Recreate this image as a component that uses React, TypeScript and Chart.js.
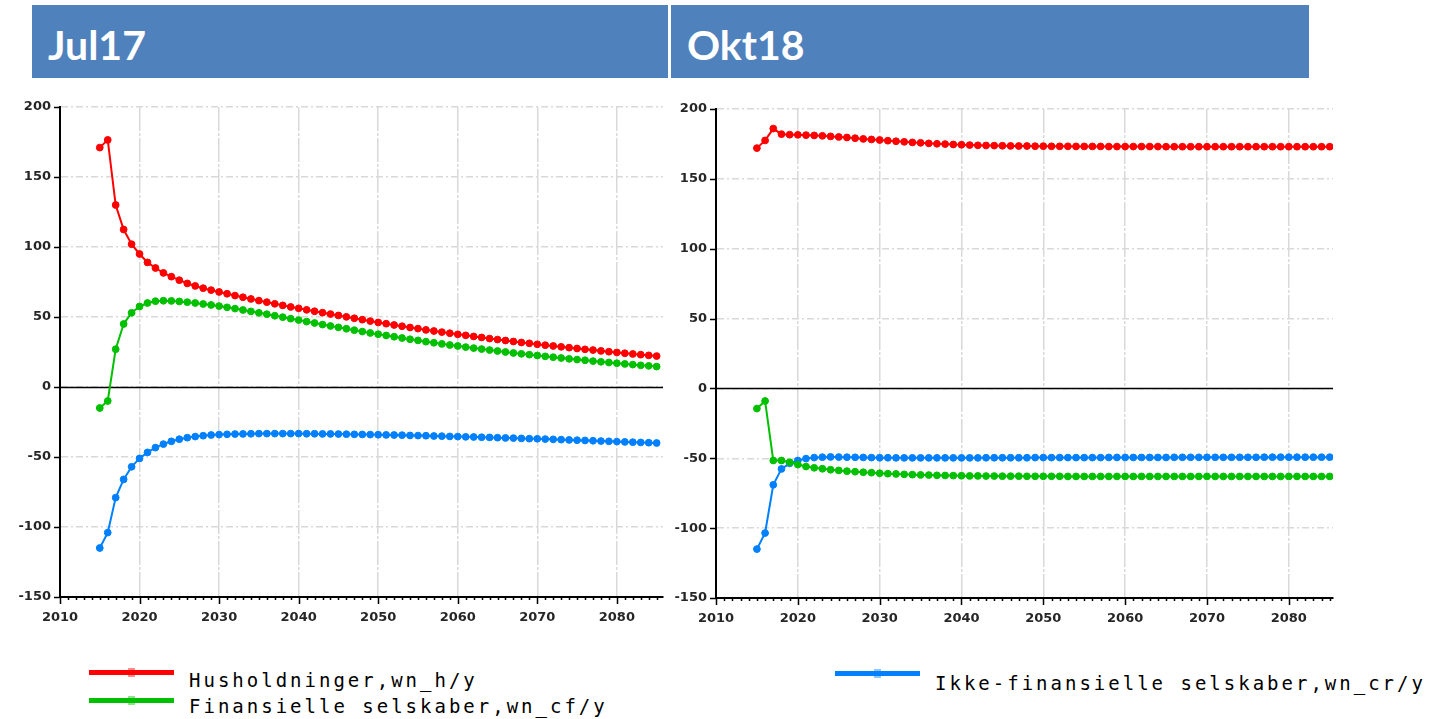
import React, { useEffect, useRef } from "react";
import { Chart, registerables } from "chart.js";
Chart.register(...registerables);

const years = [
  2015, 2016, 2017, 2018, 2019, 2020, 2021, 2022, 2023, 2024, 2025, 2026, 2027, 2028, 2029,
  2030, 2031, 2032, 2033, 2034, 2035, 2036, 2037, 2038, 2039, 2040, 2041, 2042, 2043, 2044,
  2045, 2046, 2047, 2048, 2049, 2050, 2051, 2052, 2053, 2054, 2055, 2056, 2057, 2058, 2059,
  2060, 2061, 2062, 2063, 2064, 2065, 2066, 2067, 2068, 2069, 2070, 2071, 2072, 2073, 2074,
  2075, 2076, 2077, 2078, 2079, 2080, 2081, 2082, 2083, 2084, 2085,
];

const xTicks = [2010, 2020, 2030, 2040, 2050, 2060, 2070, 2080];
const yTicks = [-150, -100, -50, 0, 50, 100, 150, 200];

const seriesNames = [
  "Husholdninger,wn_h/y",
  "Finansielle selskaber,wn_cf/y",
  "Ikke-finansielle selskaber,wn_cr/y",
];
const panelTitles = ["Jul17", "Okt18"];

// Jul17 panel
const jul17Households = [
  171, 176.5, 130, 112.5, 102, 95, 89, 85, 81.5, 78.8, 76.3, 74, 72.2, 70.6, 69.2,
  67.9, 66.6, 65.3, 64.1, 62.9, 61.7, 60.6, 59.4, 58.3, 57.2, 56.2, 55.1, 54.1, 53.1, 52.1,
  51.1, 50.1, 49.1, 48.1, 47.1, 46.1, 45.2, 44.3, 43.4, 42.5, 41.7, 40.8, 40, 39.2, 38.4,
  37.6, 36.9, 36.1, 35.4, 34.6, 33.9, 33.2, 32.5, 31.8, 31.2, 30.5, 29.9, 29.3, 28.7, 28.1,
  27.5, 26.9, 26.4, 25.8, 25.2, 24.7, 24.1, 23.6, 23.1, 22.6, 22.1,
];
const jul17Financial = [
  -15, -10, 27, 45, 53, 57.5, 60, 61.3, 61.6, 61.5, 61.1, 60.6, 60, 59.3, 58.6,
  57.8, 56.9, 56, 55, 54, 53, 52, 50.9, 49.9, 48.8, 47.8, 46.7, 45.7, 44.6, 43.6,
  42.6, 41.6, 40.6, 39.6, 38.6, 37.7, 36.8, 35.9, 35, 34.1, 33.3, 32.4, 31.6, 30.8, 30,
  29.3, 28.5, 27.8, 27.1, 26.4, 25.7, 25, 24.3, 23.7, 23.1, 22.5, 21.9, 21.3, 20.7, 20.1,
  19.6, 19.1, 18.5, 18, 17.5, 17, 16.5, 16, 15.5, 15.1, 14.6,
];
const jul17NonFinancial = [
  -115, -104, -79, -66, -57, -51, -46.7, -43.3, -40.8, -38.8, -37.3, -36.2, -35.4, -34.8, -34.3,
  -34, -33.8, -33.6, -33.5, -33.4, -33.3, -33.3, -33.3, -33.3, -33.3, -33.3, -33.4, -33.4, -33.5, -33.5,
  -33.6, -33.7, -33.8, -33.9, -34, -34.1, -34.2, -34.3, -34.4, -34.6, -34.7, -34.8, -35, -35.1, -35.3,
  -35.4, -35.6, -35.7, -35.9, -36, -36.2, -36.4, -36.5, -36.7, -36.9, -37, -37.2, -37.4, -37.6, -37.8,
  -38, -38.2, -38.4, -38.6, -38.8, -39, -39.2, -39.4, -39.6, -39.8, -40,
];

// Okt18 panel
const okt18Households = [
  172, 177.5, 186, 182, 181.6, 181.5, 181.3, 181.1, 180.8, 180.4, 180, 179.6, 179.1, 178.6, 178.2,
  177.8, 177.3, 176.9, 176.5, 176.1, 175.8, 175.4, 175.1, 174.9, 174.6, 174.4, 174.2, 174, 173.9, 173.8,
  173.7, 173.6, 173.5, 173.5, 173.4, 173.4, 173.3, 173.3, 173.3, 173.2, 173.2, 173.2, 173.2, 173.1, 173.1,
  173.1, 173.1, 173.1, 173.1, 173.1, 173, 173, 173, 173, 173, 173, 173, 173, 173, 173,
  173, 173, 173, 173, 173, 173, 173, 173, 173, 173, 173,
];
const okt18Financial = [
  -14.4, -9, -51.6, -51.6, -52.8, -54.5, -55.9, -56.8, -57.5, -58.2, -58.7, -59.2, -59.6, -60, -60.3,
  -60.7, -61, -61.2, -61.5, -61.7, -61.9, -62, -62.2, -62.3, -62.4, -62.5, -62.6, -62.6, -62.7, -62.7,
  -62.8, -62.8, -62.8, -62.9, -62.9, -62.9, -62.9, -62.9, -63, -63, -63, -63, -63, -63, -63,
  -63, -63, -63, -63, -63, -63, -63, -63, -63, -63, -63, -63, -63, -63, -63,
  -63, -63, -63, -63, -63, -63, -63, -63, -63, -63, -63,
];
const okt18NonFinancial = [
  -115, -103.5, -69, -57.6, -53.6, -51.6, -50.2, -49.5, -49.2, -49, -49.1, -49.2, -49.3, -49.4, -49.5,
  -49.6, -49.6, -49.7, -49.7, -49.7, -49.7, -49.7, -49.7, -49.7, -49.7, -49.7, -49.7, -49.7, -49.6, -49.6,
  -49.6, -49.6, -49.6, -49.6, -49.5, -49.5, -49.5, -49.5, -49.5, -49.5, -49.5, -49.5, -49.5, -49.4, -49.4,
  -49.4, -49.4, -49.4, -49.4, -49.4, -49.4, -49.3, -49.3, -49.3, -49.3, -49.3, -49.3, -49.3, -49.3, -49.3,
  -49.3, -49.3, -49.2, -49.2, -49.2, -49.2, -49.2, -49.2, -49.2, -49.2, -49.2,
];

const colors = ["#ff0000", "#00c000", "#0080ff"];
const headerBlue = "#4f81bd";

const tickFont = { family: "'DejaVu Sans', Verdana, sans-serif", size: 13, weight: "bold" as const };

type PanelProps = {
  series: number[][];
  left: number;
  width: number;
  yAxisWidth: number;
  padTop: number;
  padRight: number;
  xAxisHeight: number;
  xMax: number;
};

const CANVAS_TOP = 87;
const CANVAS_H = 553;

function Panel(props: PanelProps) {
  const ref = useRef<HTMLCanvasElement>(null);
  useEffect(() => {
    const canvas = ref.current;
    if (!canvas) return;
    const decor = {
      id: "decor",
      beforeDatasetsDraw(chart: any) {
        const { ctx, chartArea, scales } = chart;
        const y0 = Math.round(scales.y.getPixelForValue(0)) + 0.5;
        ctx.save();
        ctx.strokeStyle = "#000";
        ctx.lineWidth = 1.5;
        ctx.beginPath();
        ctx.moveTo(chartArea.left, y0);
        ctx.lineTo(chartArea.right, y0);
        ctx.stroke();
        ctx.restore();
      },
      afterDraw(chart: any) {
        const { ctx, chartArea, scales } = chart;
        ctx.save();
        ctx.strokeStyle = "#000";
        ctx.lineWidth = 1.5;
        ctx.beginPath();
        for (let yr = 2010; yr <= props.xMax; yr++) {
          const px = Math.round(scales.x.getPixelForValue(yr)) + 0.5;
          const len = yr % 10 === 0 ? 7 : 3;
          ctx.moveTo(px, chartArea.bottom);
          ctx.lineTo(px, chartArea.bottom + len);
        }
        for (const v of yTicks) {
          const py = Math.round(scales.y.getPixelForValue(v)) + 0.5;
          ctx.moveTo(chartArea.left - 6, py);
          ctx.lineTo(chartArea.left, py);
        }
        ctx.stroke();
        ctx.restore();
      },
    };
    const chart = new Chart(canvas, {
      type: "line",
      data: {
        datasets: props.series.map((vals, i) => ({
          label: seriesNames[i],
          data: years.map((yr, j) => ({ x: yr, y: vals[j] })),
          borderColor: colors[i],
          backgroundColor: colors[i],
          borderWidth: 2,
          pointRadius: 3.4,
          pointBorderWidth: 1,
          pointBorderColor: colors[i],
          pointBackgroundColor: colors[i],
          tension: 0,
        })),
      },
      options: {
        animation: false,
        responsive: false,
        layout: { padding: { top: props.padTop, right: props.padRight, left: 0, bottom: 0 } },
        plugins: { legend: { display: false }, tooltip: { enabled: false } },
        scales: {
          x: {
            type: "linear",
            min: 2010,
            max: props.xMax,
            afterBuildTicks: (s: any) => {
              s.ticks = xTicks.map((v) => ({ value: v }));
            },
            afterFit: (s: any) => {
              s.height = props.xAxisHeight;
            },
            ticks: {
              font: tickFont,
              color: "#262626",
              padding: 13,
              maxRotation: 0,
              autoSkip: false,
              callback: (v: any) => String(v),
            },
            grid: { color: "#d9d9d9", lineWidth: 1.5, drawTicks: false },
            border: { display: true, color: "#000", width: 2, dash: [24, 2, 3, 2] },
          },
          y: {
            type: "linear",
            min: -150,
            max: 200,
            afterBuildTicks: (s: any) => {
              s.ticks = yTicks.map((v) => ({ value: v }));
            },
            afterFit: (s: any) => {
              s.width = props.yAxisWidth;
            },
            ticks: {
              font: tickFont,
              color: "#262626",
              padding: 9,
              autoSkip: false,
              callback: (v: any) => String(v),
            },
            grid: { color: "#d9d9d9", lineWidth: 1.5, drawTicks: false },
            border: { display: true, color: "#000", width: 2, dash: [7, 3, 2, 3] },
          },
        },
      },
      plugins: [decor],
    } as any);
    return () => chart.destroy();
  }, []);
  return (
    <canvas
      ref={ref}
      width={props.width}
      height={CANVAS_H}
      style={{ position: "absolute", left: props.left, top: CANVAS_TOP, width: props.width, height: CANVAS_H }}
    />
  );
}

function LegendItem({ color, label, x, y, textDy }: { color: string; label: string; x: number; y: number; textDy: number }) {
  return (
    <div style={{ position: "absolute", left: x, top: y, height: 20 }}>
      <div style={{ position: "absolute", left: 0, top: 0, width: 85, height: 5, background: color }} />
      <div
        style={{
          position: "absolute",
          left: 39,
          top: -2,
          width: 7,
          height: 9,
          background: color,
          opacity: 0.45,
        }}
      />
      <div
        style={{
          position: "absolute",
          left: 100,
          top: textDy,
          whiteSpace: "nowrap",
          fontFamily: "'DejaVu Sans Mono', monospace",
          fontSize: 19,
          letterSpacing: 3,
          color: "#000",
          lineHeight: "24px",
        }}
      >
        {label}
      </div>
    </div>
  );
}

function Header({ x, w, text }: { x: number; w: number; text: string }) {
  return (
    <div
      style={{
        position: "absolute",
        left: x,
        top: 5,
        width: w,
        height: 73,
        background: headerBlue,
      }}
    >
      <div
        style={{
          position: "absolute",
          left: 16,
          top: 18,
          fontFamily: "Lato, 'Open Sans', sans-serif",
          fontWeight: 700,
          fontSize: 41,
          lineHeight: "44px",
          color: "#fff",
        }}
      >
        {text}
      </div>
    </div>
  );
}

export default function App() {
  return (
    <div style={{ position: "absolute", left: 0, top: 0, width: 1433, height: 719, background: "#fff", overflow: "hidden" }}>
      <Header x={32} w={636} text={panelTitles[0]} />
      <Header x={671} w={638} text={panelTitles[1]} />
      <Panel
        series={[jul17Households, jul17Financial, jul17NonFinancial]}
        left={0}
        width={668}
        yAxisWidth={60}
        padTop={20}
        padRight={4}
        xAxisHeight={43}
        xMax={2085.8}
      />
      <Panel
        series={[okt18Households, okt18Financial, okt18NonFinancial]}
        left={668}
        width={672}
        yAxisWidth={48}
        padTop={22}
        padRight={7}
        xAxisHeight={42}
        xMax={2085.4}
      />
      <LegendItem color={colors[0]} label={seriesNames[0]} x={89} y={670} textDy={-2} />
      <LegendItem color={colors[1]} label={seriesNames[1]} x={89} y={698} textDy={-4} />
      <LegendItem color={colors[2]} label={seriesNames[2]} x={835} y={671} textDy={0} />
    </div>
  );
}
